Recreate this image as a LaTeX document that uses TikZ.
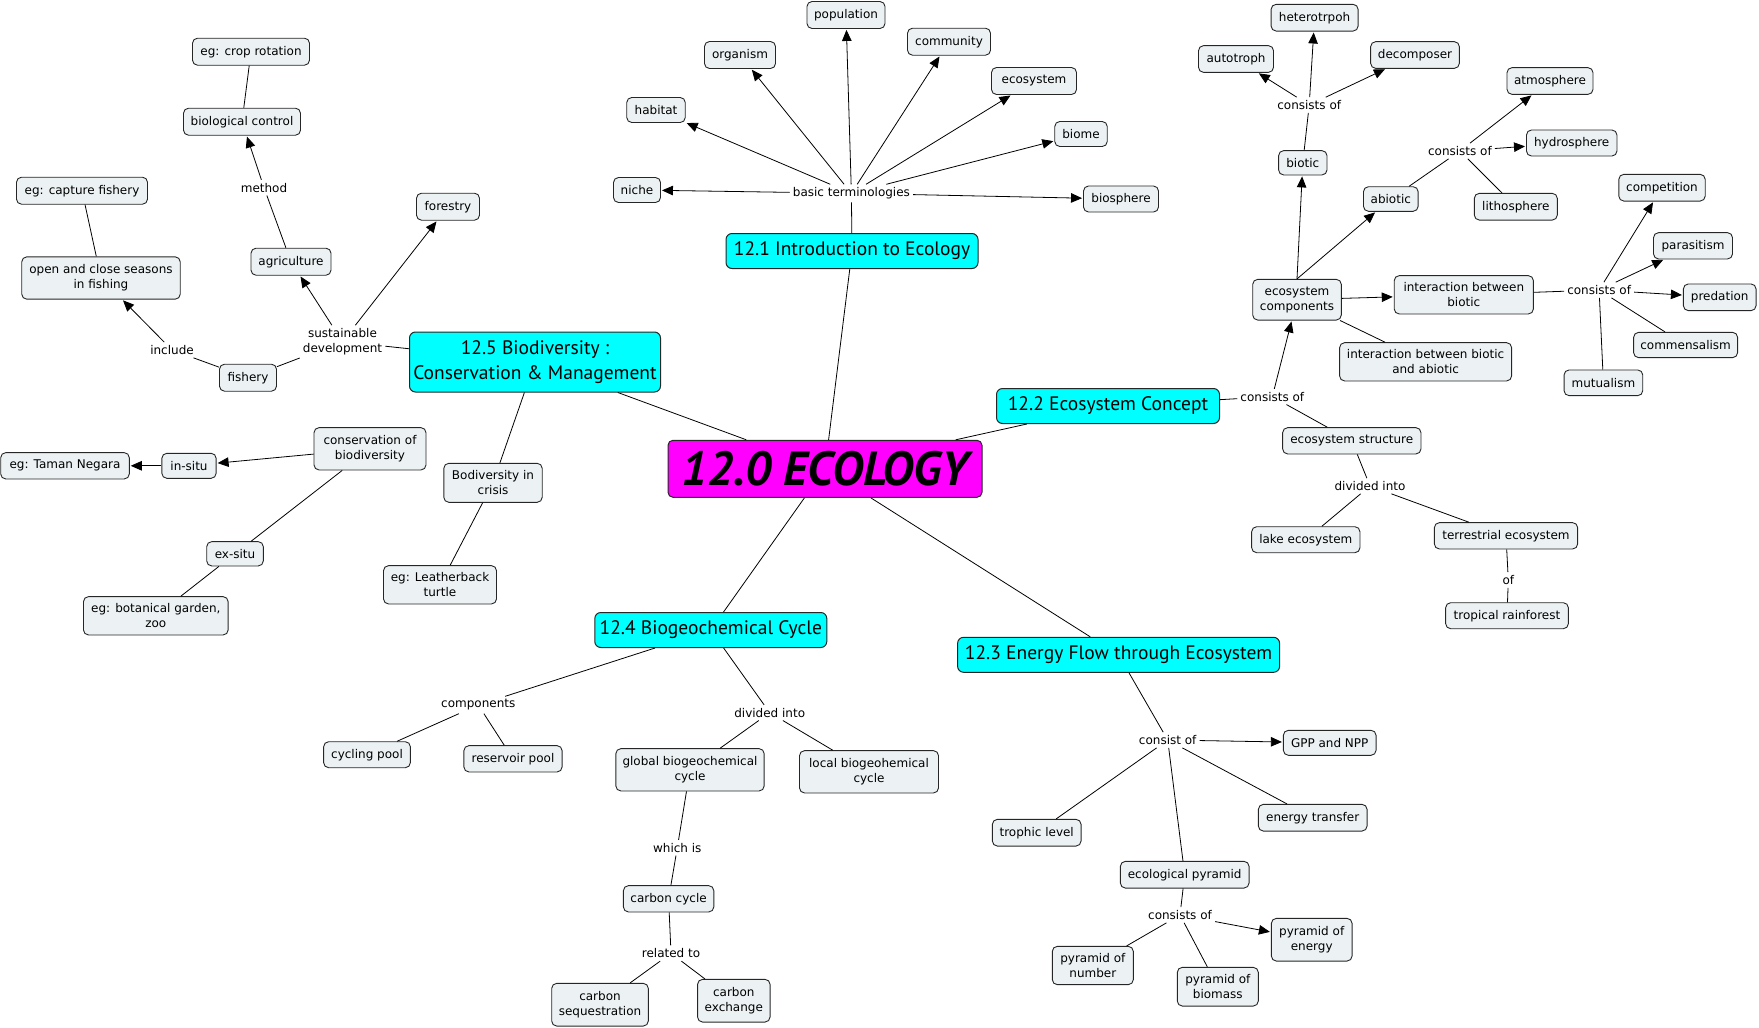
\documentclass[tikz,border=0pt]{standalone}
\usepackage{fontspec}
\setmainfont{DejaVu Sans}
\newfontfamily\headfont{PT Sans}
\usetikzlibrary{arrows.meta}
\definecolor{boxfill}{RGB}{236,242,244}
\definecolor{headcyan}{RGB}{0,255,255}
\definecolor{titlemag}{RGB}{255,0,255}
\begin{document}
\begin{tikzpicture}[x=1pt,y=-1pt,
  box/.style={draw=black!85, line width=0.9pt, rounded corners=5pt, fill=boxfill, align=center, inner sep=1pt, font=\fontsize{12}{15}\selectfont},
  sz/.style 2 args={minimum width=#1pt, minimum height=#2pt},
  lbl/.style={align=center, inner sep=3pt, font=\fontsize{12}{15}\selectfont},
  head/.style={draw=black!85, line width=1pt, rounded corners=6pt, fill=headcyan, align=center, inner sep=2pt, font=\headfont\fontsize{19.5}{25}\selectfont},
  titlebox/.style={draw=black!85, line width=1pt, rounded corners=5pt, fill=titlemag, align=center, inner sep=2pt, font=\headfont\bfseries\itshape\fontsize{48}{50}\selectfont},
  ln/.style={line width=0.8pt},
  arr/.style={line width=0.8pt, -{Triangle[length=11pt,width=9.5pt]}, shorten >=1pt}
]
\useasboundingbox (0,0) rectangle (1759,1028);

% ---------- centre ----------
\node[titlebox, sz={314}{57}] (eco) at (825,468.8) {12.0 ECOLOGY};
\node[head, sz={252}{35}] (s121) at (852,251) {12.1 Introduction to Ecology};
\node[head, sz={223}{35}] (s122) at (1108,406) {12.2 Ecosystem Concept};
\node[head, sz={322}{35}] (s123) at (1118.6,654.8) {12.3 Energy Flow through Ecosystem};
\node[head, sz={232}{35}] (s124) at (710.8,630) {12.4 Biogeochemical Cycle};
\node[head, sz={251}{60}] (s125) at (535,362) {12.5 Biodiversity :\\Conservation \& Management};

% ---------- 12.1 ----------
\node[box, sz={78}{27}] (pop) at (846,15) {population};
\node[box, sz={71}{27}] (org) at (740,55) {organism};
\node[box, sz={83}{27}] (comm) at (949,41.7) {community};
\node[box, sz={85}{27}] (ecos) at (1034,81) {ecosystem};
\node[box, sz={58.5}{25}] (hab) at (656,110) {habitat};
\node[box, sz={52.5}{25}] (biome) at (1081,134) {biome};
\node[box, sz={47}{25}] (niche) at (637,190) {niche};
\node[box, sz={75}{26}] (biosph) at (1121,199) {biosphere};
\node[lbl] (basic) at (851.4,193.3) {basic terminologies};

% ---------- 12.5 ----------
\node[box, sz={117}{27}] (crop) at (251,51.7) {eg: crop rotation};
\node[box, sz={117}{27}] (bioc) at (242,121.7) {biological control};
\node[lbl] (meth) at (264,187.7) {method};
\node[box, sz={131}{27}] (capt) at (82,190.7) {eg: capture fishery};
\node[box, sz={63}{27}] (forestry) at (448,206.7) {forestry};
\node[box, sz={158.5}{42.3}] (openclose) at (101,278) {open and close seasons\\in fishing};
\node[box, sz={80}{27}] (agri) at (291,261.7) {agriculture};
\node[lbl] (sust) at (342.5,341.7) {sustainable\\development};
\node[lbl] (incl) at (172,350) {include};
\node[box, sz={57}{27}] (fishery) at (248,377.7) {fishery};
\node[box, sz={112}{42.3}] (cons) at (370,448.8) {conservation of\\biodiversity};
\node[box, sz={128.6}{26.3}] (taman) at (65,465.8) {eg: Taman Negara};
\node[box, sz={54.3}{25}] (insitu) at (189,465.8) {in-situ};
\node[box, sz={98.4}{39}] (crisis) at (493,482.8) {Bodiversity in\\crisis};
\node[box, sz={56.6}{24.3}] (exsitu) at (235,553.8) {ex-situ};
\node[box, sz={113}{38.3}] (leather) at (440,584.8) {eg: Leatherback\\turtle};
\node[box, sz={144.7}{38.3}] (botan) at (155.8,615.8) {eg: botanical garden,\\zoo};

% ---------- 12.2 ----------
\node[box, sz={87}{26.7}] (hetero) at (1314.6,17.7) {heterotrpoh};
\node[box, sz={75}{26.7}] (auto) at (1236,59) {autotroph};
\node[box, sz={88.7}{26.7}] (decomp) at (1415,55) {decomposer};
\node[lbl] (cbio) at (1309.2,105) {consists of};
\node[box, sz={86}{26.7}] (atmos) at (1550,81) {atmosphere};
\node[box, sz={90.5}{26}] (hydro) at (1571.7,143) {hydrosphere};
\node[lbl] (cabio) at (1459.9,151) {consists of};
\node[box, sz={48.4}{24.3}] (biotic) at (1302.8,162.8) {biotic};
\node[box, sz={54.7}{24.6}] (abiotic) at (1390.8,199) {abiotic};
\node[box, sz={83}{26.7}] (litho) at (1515.8,206.7) {lithosphere};
\node[box, sz={86.4}{26.7}] (compet) at (1662,187.7) {competition};
\node[box, sz={79}{26.3}] (parasit) at (1693,245.8) {parasitism};
\node[box, sz={88.6}{40.7}] (ecocomp) at (1297,299.7) {ecosystem\\components};
\node[box, sz={139.2}{38.3}] (intbio) at (1463.8,294.8) {interaction between\\biotic};
\node[lbl] (cint) at (1599.1,290) {consists of};
\node[box, sz={72.7}{26.7}] (pred) at (1719.7,297.3) {predation};
\node[box, sz={104}{25.3}] (commens) at (1685.6,345) {commensalism};
\node[box, sz={172}{38.3}] (intab) at (1425.6,361.8) {interaction between biotic\\and abiotic};
\node[box, sz={78.7}{25.7}] (mutual) at (1603.4,382.8) {mutualism};
\node[lbl] (ceco) at (1272.3,396.7) {consists of};
\node[box, sz={138.3}{26.3}] (ecostruct) at (1351.8,440.8) {ecosystem structure};
\node[lbl] (divinto) at (1370,486) {divided into};
\node[box, sz={108.3}{26}] (lake) at (1305.8,539.7) {lake ecosystem};
\node[box, sz={143.3}{26.3}] (terr) at (1506,535.8) {terrestrial ecosystem};
\node[lbl] (oflbl) at (1508.3,580) {of};
\node[box, sz={122.7}{26}] (tropic) at (1507,615.7) {tropical rainforest};

% ---------- 12.4 ----------
\node[lbl] (complbl) at (478.3,705) {components};
\node[box, sz={86.7}{26}] (cyc) at (367,754.7) {cycling pool};
\node[box, sz={98.2}{26.3}] (res) at (513,758.8) {reservoir pool};
\node[lbl] (div2) at (769.7,712.7) {divided into};
\node[box, sz={148.3}{42.3}] (glob) at (690,769.8) {global biogeochemical\\cycle};
\node[box, sz={139}{42.3}] (local) at (869,771.8) {local biogeohemical\\cycle};
\node[lbl] (which) at (677.3,847.7) {which is};
\node[box, sz={90.4}{26.3}] (ccyc) at (668.6,898.8) {carbon cycle};
\node[lbl] (rel) at (671,953.3) {related to};
\node[box, sz={96.6}{42.7}] (cseq) at (600,1004.7) {carbon\\sequestration};
\node[box, sz={72.5}{42.7}] (cex) at (733.8,1000.7) {carbon\\exchange};

% ---------- 12.3 ----------
\node[lbl] (consist) at (1167.7,740) {consist of};
\node[box, sz={92.7}{25}] (gpp) at (1329.7,742.8) {GPP and NPP};
\node[box, sz={108.7}{26.7}] (etrans) at (1312.7,817.7) {energy transfer};
\node[box, sz={88.7}{26.7}] (troph) at (1036.7,832.7) {trophic level};
\node[box, sz={128.7}{26.7}] (ecopyr) at (1184.7,874.7) {ecological pyramid};
\node[lbl] (cons2) at (1180,915) {consists of};
\node[box, sz={80.7}{42.7}] (pener) at (1311.7,939.7) {pyramid of\\energy};
\node[box, sz={81}{38.3}] (pnum) at (1092.8,965.5) {pyramid of\\number};
\node[box, sz={81}{38.7}] (pbio) at (1217.8,986.7) {pyramid of\\biomass};

% ---------- connectors: centre ----------
\draw[ln] (eco) -- (s121);
\draw[ln] (eco) -- (s122);
\draw[ln] (eco) -- (s123);
\draw[ln] (eco) -- (s124);
\draw[ln] (s125) -- (eco);

% 12.1
\draw[ln] (s121) -- (basic);
\foreach \t in {niche,hab,org,pop,comm,ecos,biome,biosph}
  \draw[arr] (basic) -- (\t);

% 12.5
\draw[ln] (s125) -- (sust);
\draw[arr] (sust) -- (agri);
\draw[arr] (sust) -- (forestry);
\draw[ln] (sust) -- (fishery);
\draw[ln] (fishery) -- (incl);
\draw[arr] (incl) -- (openclose);
\draw[ln] (openclose) -- (capt);
\draw[ln] (agri) -- (meth);
\draw[arr] (meth) -- (bioc);
\draw[ln] (bioc) -- (crop);
\draw[ln] (s125) -- (crisis);
\draw[ln] (crisis) -- (leather);
\draw[arr] (cons) -- (insitu);
\draw[arr] (insitu) -- (taman);
\draw[ln] (cons) -- (exsitu);
\draw[ln] (exsitu) -- (botan);

% 12.2
\draw[ln] (s122) -- (ceco);
\draw[arr] (ceco) -- (ecocomp);
\draw[ln] (ceco) -- (ecostruct);
\draw[arr] (ecocomp.north) -- (biotic);
\draw[arr] (ecocomp.north) -- (abiotic);
\draw[arr] (ecocomp) -- (intbio);
\draw[ln] (ecocomp) -- (intab);
\draw[ln] (biotic) -- (cbio);
\draw[arr] (cbio) -- (auto);
\draw[arr] (cbio) -- (hetero);
\draw[arr] (cbio) -- (decomp);
\draw[ln] (abiotic) -- (cabio);
\draw[arr] (cabio) -- (atmos);
\draw[arr] (cabio) -- (hydro);
\draw[ln] (cabio) -- (litho);
\draw[ln] (intbio) -- (cint);
\draw[arr] (cint) -- (compet);
\draw[arr] (cint) -- (parasit);
\draw[arr] (cint) -- (pred);
\draw[ln] (cint) -- (commens);
\draw[ln] (cint) -- (mutual);
\draw[ln] (ecostruct) -- (divinto);
\draw[ln] (divinto) -- (lake);
\draw[ln] (divinto) -- (terr);
\draw[ln] (terr) -- (oflbl);
\draw[ln] (oflbl) -- (tropic);

% 12.3
\draw[ln] (s123) -- (consist);
\draw[arr] (consist) -- (gpp);
\draw[ln] (consist) -- (troph);
\draw[ln] (consist) -- (etrans);
\draw[ln] (consist) -- (ecopyr);
\draw[ln] (ecopyr) -- (cons2);
\draw[ln] (cons2) -- (pnum);
\draw[ln] (cons2) -- (pbio);
\draw[arr] (cons2) -- (pener);

% 12.4
\draw[ln] (s124) -- (complbl);
\draw[ln] (complbl) -- (cyc);
\draw[ln] (complbl) -- (res);
\draw[ln] (s124) -- (div2);
\draw[ln] (div2) -- (glob);
\draw[ln] (div2) -- (local);
\draw[ln] (glob) -- (which);
\draw[ln] (which) -- (ccyc);
\draw[ln] (ccyc) -- (rel);
\draw[ln] (rel) -- (cseq);
\draw[ln] (rel) -- (cex);
\end{tikzpicture}
\end{document}
